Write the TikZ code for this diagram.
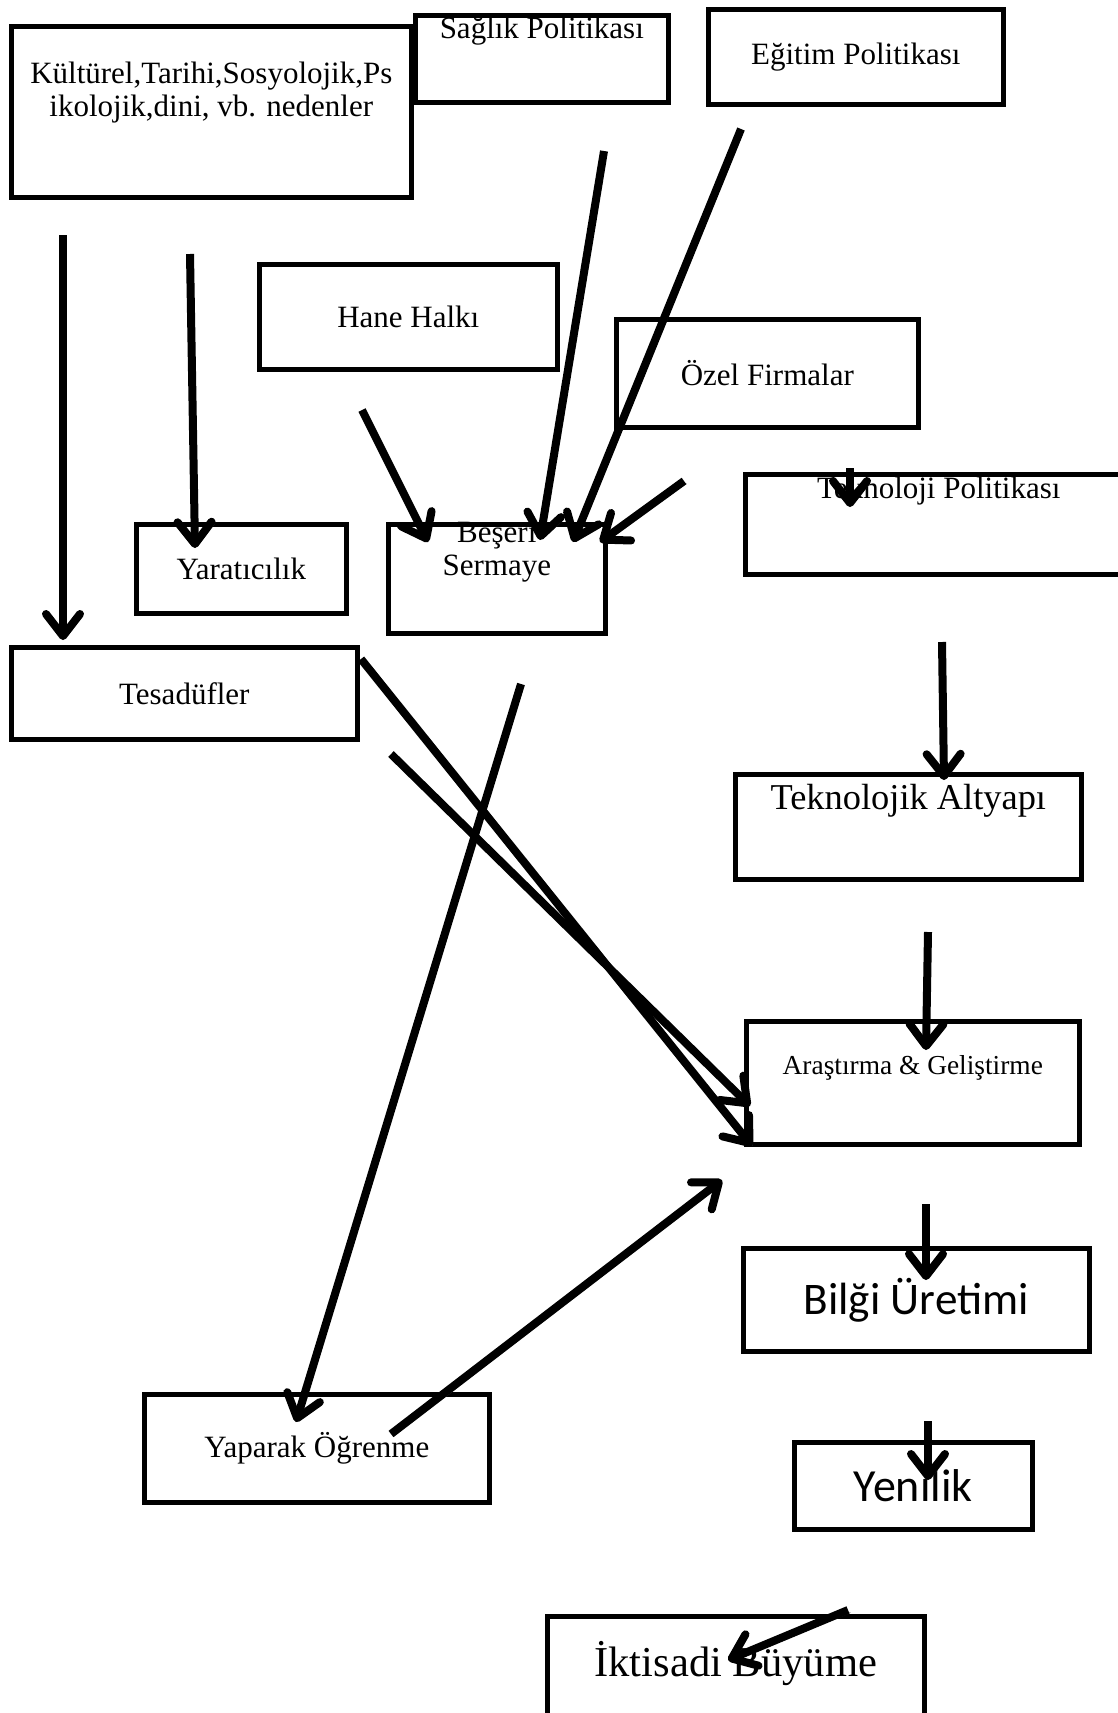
\documentclass[tikz,border=0pt]{standalone}
\usepackage{fontspec}
\setmainfont{Liberation Serif}
\newfontfamily\calfont{Carlito}
\usetikzlibrary{arrows.meta,positioning}

\tikzset{
  box/.style={draw, line width=2.3pt, rectangle, anchor=north west, inner sep=0pt, align=center, font=\fontsize{15.5}{16.5}\selectfont},
  txt/.style={font=\fontsize{15.5}{16.5}\selectfont, align=center, anchor=center, inner sep=0pt},
  arr/.style={line width=4pt, -{Straight Barb[length=11pt,width=17pt,round]},
    preaction={draw=black!40, transform canvas={shift={(1.2pt,-1.2pt)}}}},
}

\begin{document}
\begin{tikzpicture}[x=0.5pt,y=-0.5pt]
        \useasboundingbox (0,0) rectangle (1118,1713);
        % boxes
        \node[box, minimum width=200pt, minimum height=85.5pt, label={[txt,yshift=-34.5pt]north:{Kültürel,Tarihi,Sosyolojik,Ps\\ikolojik,dini, vb. nedenler}}] (kul) at (9,24) {};
        \node[box, minimum width=126.5pt, minimum height=43.5pt, label={[txt,yshift=-8.8pt]north:{Sağlık Politikası}}] (sag) at (413,13) {};
        \node[box, minimum width=147.5pt, minimum height=47.5pt] (egi) at (706,7) {Eğitim Politikası};
        \node[box, minimum width=149pt, minimum height=52.5pt] (hane) at (257,262) {Hane Halkı};
        \node[box, minimum width=151pt, minimum height=54pt] (ozel) at (614,317) {Özel Firmalar};
        \node[box, minimum width=193.5pt, minimum height=50pt, label={[txt,yshift=-9.5pt]north:{Teknoloji Politikası}}] (tpol) at (743,472) {};
        \node[box, minimum width=105pt, minimum height=44.5pt] (yar) at (134,522) {Yaratıcılık};
        \node[box, minimum width=108.5pt, minimum height=54.5pt, label={[txt,yshift=-15pt]north:{Beşeri\\Sermaye}}] (bes) at (386,522) {};
        \node[box, minimum width=173pt, minimum height=46pt] (tes) at (9,645) {Tesadüfler};
        \node[box, minimum width=173pt, minimum height=52.5pt, label={[txt,font=\fontsize{18.2}{20}\selectfont,yshift=-14.5pt]north:{Teknolojik Altyapı}}] (talt) at (733,772) {};
        \node[box, minimum width=166.5pt, minimum height=61.5pt, label={[txt,font=\fontsize{13.7}{15}\selectfont,yshift=-24.5pt]north:{Araştırma \& Geliştirme}}] (arge) at (744,1019) {};
        \node[box, minimum width=173pt, minimum height=51.5pt, font=\calfont\fontsize{22.6}{25}\selectfont] (bilgi) at (741,1246) {Bilği Üretimi};
        \node[box, minimum width=172.5pt, minimum height=54pt] (yap) at (142,1392) {Yaparak Öğrenme};
        \node[box, minimum width=119pt, minimum height=43.5pt, font=\calfont\fontsize{23}{25}\selectfont] (yen) at (792,1440) {Yenilik};
        \node[box, minimum width=188.5pt, minimum height=55pt, label={[txt,font=\fontsize{21.3}{23}\selectfont,yshift=-24.5pt]north:{İktisadi Büyüme}}] (ikt) at (545,1614) {};

        % arrow ends
        \coordinate (kulA) at (63,235);   \coordinate (tesT) at (63,640);
        \coordinate (kulB) at (190,254);  \coordinate (yarT) at (195,548);
        \coordinate (haneA) at (362,410); \coordinate (besT1) at (428,542);
        \coordinate (sagA) at (604,151);  \coordinate (besT2) at (540,540);
        \coordinate (egiA) at (741,129);  \coordinate (besT3) at (573,542);
        \coordinate (ozelA) at (684,481); \coordinate (besT4) at (600,542);
        \coordinate (tpolA) at (850,468); \coordinate (tpolT) at (850,507);
        \coordinate (tpolB) at (942,642); \coordinate (taltT) at (944,780);
        \coordinate (tesA) at (361,659);  \coordinate (argeT1) at (752,1146);
        \coordinate (yarA) at (391,754);  \coordinate (argeT2) at (750,1106);
        \coordinate (besA) at (521,684);  \coordinate (yapT) at (296,1422);
        \coordinate (yapA) at (391,1434); \coordinate (argeT3) at (722,1180);
        \coordinate (taltA) at (928,932); \coordinate (argeT4) at (926,1050);
        \coordinate (argeA) at (926,1204); \coordinate (bilgiT) at (926,1280);
        \coordinate (bilgiA) at (928,1421); \coordinate (yenT) at (928,1480);
        \coordinate (yenA) at (848,1610); \coordinate (iktT) at (728,1660);

        % arrows
        \draw[arr] (kulA) -- (tesT);
        \draw[arr] (kulB) -- (yarT);
        \draw[arr] (haneA) -- (besT1);
        \draw[arr] (sagA) -- (besT2);
        \draw[arr] (egiA) -- (besT3);
        \draw[arr] (ozelA) -- (besT4);
        \draw[arr] (tpolA) -- (tpolT);
        \draw[arr] (tpolB) -- (taltT);
        \draw[arr] (tesA) -- (argeT1);
        \draw[arr] (yarA) -- (argeT2);
        \draw[arr] (besA) -- (yapT);
        \draw[arr] (yapA) -- (argeT3);
        \draw[arr] (taltA) -- (argeT4);
        \draw[arr] (argeA) -- (bilgiT);
        \draw[arr] (bilgiA) -- (yenT);
        \draw[arr] (yenA) -- (iktT);

      \end{tikzpicture}
\end{document}
